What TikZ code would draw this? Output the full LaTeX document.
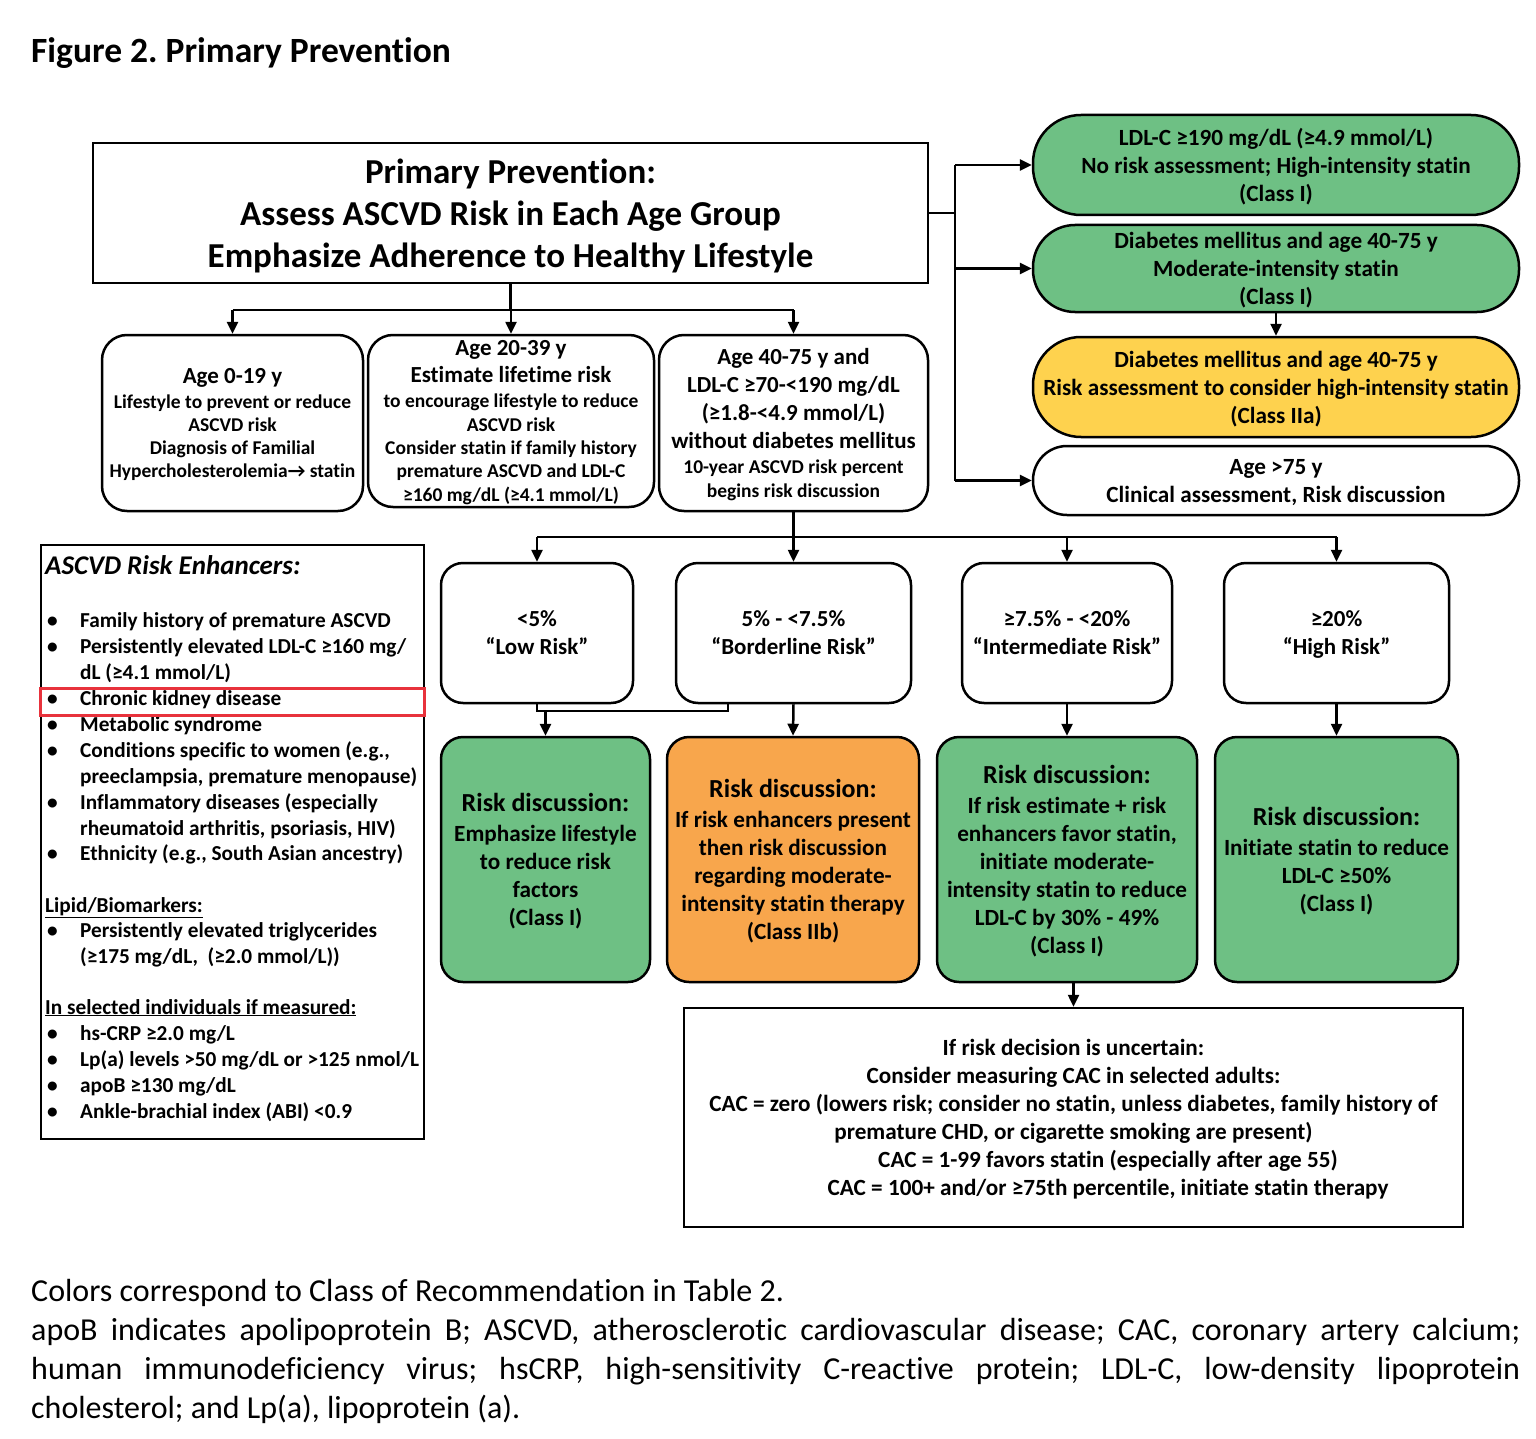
\documentclass[tikz,border=0pt]{standalone}
\usepackage{fontspec}
\setmainfont{Carlito}[Ligatures=NoCommon]
\frenchspacing
\usetikzlibrary{arrows.meta}
\definecolor{cgreen}{RGB}{110,192,132}
\definecolor{corange}{RGB}{248,166,76}
\definecolor{cyellow}{RGB}{254,210,78}
\definecolor{cred}{RGB}{232,50,60}
\newcommand{\fsz}[2]{\fontsize{#1}{#2}\selectfont}
\newcommand{\eb}[3]{\node[enht] (b#1) at (47,#2) {•}; \node[enht] (e#1) at (80,#2) {#3};}
\newcommand{\ec}[3]{\node[enht] (e#1) at (80,#2) {#3};}
\tikzset{
  box/.style={draw, line width=2.5pt, inner sep=0pt, align=center, text depth=0pt},
  agebox/.style={box, rounded corners=25pt, font=\bfseries\fsz{19.5}{23.3}},
  pill/.style={box, rounded corners=#1, minimum width=486pt, font=\bfseries\fsz{23.2}{28}},
  riskbox/.style={box, rounded corners=22pt, minimum height=140pt, font=\bfseries\fsz{23}{28}},
  discbox/.style={box, rounded corners=22pt, minimum height=245pt, font=\bfseries\fsz{23.2}{28}},
  arr/.style={line width=2.5pt, -{Triangle[length=12pt,width=11pt]}},
  ln/.style={line width=2.5pt},
  enht/.style={anchor=base west, inner sep=0pt, font=\bfseries\fsz{21.3}{26}},
  captxt/.style={anchor=base west, inner sep=0pt, font=\fsz{32}{39}},
}
\begin{document}
\begin{tikzpicture}[x=1pt,y=-1pt]
\fill[white] (0,0) rectangle (1536,1439);
\useasboundingbox (0,0) rectangle (1536,1439);

\node[anchor=base west, inner sep=0pt, font=\bfseries\fsz{35.5}{42}] (title) at (31,63) {Figure 2. Primary Prevention};

% main box
\node[box, minimum width=835pt, minimum height=140pt, font=\bfseries\fsz{35}{42}] (main) at (510.5,213)
  {Primary Prevention:\\Assess ASCVD Risk in Each Age Group\\Emphasize Adherence to Healthy Lifestyle};

% age boxes
\node[agebox, minimum width=261pt, minimum height=176pt] (a0) at (232.5,423)
  {{\fsz{23}{28}Age 0-19 y}\\[1.7pt]Lifestyle to prevent or reduce\\ASCVD risk\\Diagnosis of Familial\\Hypercholesterolemia→ statin};
\node[agebox, minimum width=286pt, minimum height=172pt] (a20) at (511,421)
  {{\fsz{23}{27}Age 20-39 y}\\[3.7pt]{\fsz{23}{27}Estimate lifetime risk}\\[1.7pt]to encourage lifestyle to reduce\\ASCVD risk\\Consider statin if family history\\premature ASCVD and LDL-C\\≥160 mg/dL (≥4.1 mmol/L)};
\node[agebox, minimum width=269pt, minimum height=176pt] (a40) at (793.5,423)
  {{\fsz{23}{28}Age 40-75 y and}\\[4.7pt]{\fsz{23}{28}LDL-C ≥70-<190 mg/dL}\\[4.7pt]{\fsz{23}{28}(≥1.8-<4.9 mmol/L)}\\[4.7pt]{\fsz{23}{28}without diabetes mellitus}\\[1.7pt]10-year ASCVD risk percent\\[0.7pt]begins risk discussion};

% right column
\node[pill=48pt, fill=cgreen, minimum height=100pt] (g1) at (1276,165)
  {LDL-C ≥190 mg/dL (≥4.9 mmol/L)\\No risk assessment; High-intensity statin\\(Class I)};
\node[pill=42pt, fill=cgreen, minimum height=87pt] (g2) at (1276,268.5)
  {Diabetes mellitus and age 40-75 y\\Moderate-intensity statin\\(Class I)};
\node[pill=48pt, fill=cyellow, minimum height=100pt] (y1) at (1276,387)
  {Diabetes mellitus and age 40-75 y\\Risk assessment to consider high-intensity statin\\(Class IIa)};
\node[pill=34pt, minimum height=69pt] (w1) at (1276,480.5)
  {Age >75 y\\Clinical assessment, Risk discussion};

% connectors top
\coordinate (busR) at (955,213);
\draw[ln] (main.east) -- (busR);
\draw[ln] (busR |- g1.west) -- (busR |- w1.west);
\draw[arr] (busR |- g1.west) -- (g1.west);
\draw[arr] (busR |- g2.west) -- (g2.west);
\draw[arr] (busR |- w1.west) -- (w1.west);
\draw[arr] (g2.south) -- (y1.north);

\coordinate (busT) at (510.5,310);
\draw[ln] (main.south) -- (busT);
\draw[ln] (a0.north |- busT) -- (a40.north |- busT);
\draw[arr] (a0.north |- busT) -- (a0.north);
\draw[arr] (a20.north |- busT) -- (a20.north);
\draw[arr] (a40.north |- busT) -- (a40.north);

% risk boxes
\node[riskbox, minimum width=192pt] (r1) at (537,633) {<5\%\\“Low Risk”};
\node[riskbox, minimum width=235pt] (r2) at (793.5,633) {5\% - <7.5\%\\“Borderline Risk”};
\node[riskbox, minimum width=210pt] (r3) at (1067,633) {≥7.5\% - <20\%\\“Intermediate Risk”};
\node[riskbox, minimum width=225pt] (r4) at (1336.5,633) {≥20\%\\“High Risk”};

\coordinate (busM) at (793.5,537);
\draw[ln] (a40.south) -- (busM);
\draw[ln] (r1.north |- busM) -- (r4.north |- busM);
\draw[arr] (r1.north |- busM) -- (r1.north);
\draw[arr] (r2.north |- busM) -- (r2.north);
\draw[arr] (r3.north |- busM) -- (r3.north);
\draw[arr] (r4.north |- busM) -- (r4.north);

% discussion boxes
\node[discbox, fill=cgreen, minimum width=209pt] (d1) at (545.5,859.5)
  {{\fsz{26}{30}Risk discussion:}\\[2pt]Emphasize lifestyle\\to reduce risk\\factors\\(Class I)};
\node[discbox, fill=corange, minimum width=252pt] (d2) at (793,859.5)
  {{\fsz{26}{30}Risk discussion:}\\[2pt]If risk enhancers present\\then risk discussion\\regarding moderate-\\intensity statin therapy\\(Class IIb)};
\node[discbox, fill=cgreen, minimum width=260pt] (d3) at (1067,859.5)
  {{\fsz{26}{30}Risk discussion:}\\[2pt]If risk estimate + risk\\enhancers favor statin,\\initiate moderate-\\intensity statin to reduce\\LDL-C by 30\% - 49\%\\(Class I)};
\node[discbox, fill=cgreen, minimum width=243pt] (d4) at (1336.5,859.5)
  {{\fsz{26}{30}Risk discussion:}\\[2pt]Initiate statin to reduce\\LDL-C ≥50\%\\(Class I)};

\coordinate (lowA) at (537,711);
\coordinate (lowB) at (728,711);
\draw[ln] (r1.south) -- (lowA) -- (lowB) -- (lowB |- r2.south);
\draw[arr] (d1.north |- lowA) -- (d1.north);
\draw[arr] (r2.south) -- (d2.north);
\draw[arr] (r3.south) -- (d3.north);
\draw[arr] (r4.south) -- (d4.north);

% CAC box
\node[box, minimum width=779pt, minimum height=219pt, font=\bfseries\fsz{23.2}{28}] (cac) at (1073.5,1117.5)
  {If risk decision is uncertain:\\Consider measuring CAC in selected adults:\\CAC = zero (lowers risk; consider no statin, unless diabetes, family history of\\premature CHD, or cigarette smoking are present)\\\hspace*{69pt}CAC = 1-99 favors statin (especially after age 55)\\\hspace*{69pt}CAC = 100+ and/or ≥75th percentile, initiate statin therapy};
\draw[arr] (cac.north |- d3.south) -- (cac.north);

% risk enhancers box
\node[draw, line width=2.5pt, minimum width=383pt, minimum height=594pt, inner sep=0pt] (enh) at (232.5,842) {};
\node[anchor=base west, inner sep=0pt, font=\bfseries\itshape\fsz{27}{30}] (enhhead) at (45,574) {ASCVD Risk Enhancers:};
\eb{1}{627}{Family history of premature ASCVD}
\eb{2}{653}{Persistently elevated LDL-C ≥160 mg/}
\ec{3}{679}{dL (≥4.1 mmol/L)}
\eb{4}{705}{Chronic kidney disease}
\eb{5}{731}{Metabolic syndrome}
\eb{6}{757}{Conditions specific to women (e.g.,}
\ec{7}{783}{preeclampsia, premature menopause)}
\eb{8}{809}{Inflammatory diseases (especially}
\ec{9}{835}{rheumatoid arthritis, psoriasis, HIV)}
\eb{10}{860}{Ethnicity (e.g., South Asian ancestry)}
\node[enht] (lip) at (45,912) {\underline{Lipid/Biomarkers:}};
\eb{11}{937}{Persistently elevated triglycerides}
\ec{12}{963}{(≥175 mg/dL,\ \ (≥2.0 mmol/L))}
\node[enht] (sel) at (45,1014) {\underline{In selected individuals if measured:}};
\eb{13}{1040}{hs-CRP ≥2.0 mg/L}
\eb{14}{1066}{Lp(a) levels >50 mg/dL or >125 nmol/L}
\eb{15}{1092}{apoB ≥130 mg/dL}
\eb{16}{1118}{Ankle-brachial index (ABI) <0.9}
\node[draw=cred, line width=3pt, minimum width=384pt, minimum height=27pt, inner sep=0pt] (hl) at (232,701.5) {};

% caption
\node[captxt] (cap1) at (31,1301) {Colors correspond to Class of Recommendation in Table 2.};
\node[captxt] (cap2) at (31,1340) {\makebox[1489pt][s]{apoB indicates apolipoprotein B; ASCVD, atherosclerotic cardiovascular disease; CAC, coronary artery calcium;}};
\node[captxt] (cap3) at (31,1379) {\makebox[1489pt][s]{human immunodeficiency virus; hsCRP, high-sensitivity C-reactive protein; LDL-C, low-density lipoprotein}};
\node[captxt] (cap4) at (31,1418) {cholesterol; and Lp(a), lipoprotein (a).};
\end{tikzpicture}
\end{document}
